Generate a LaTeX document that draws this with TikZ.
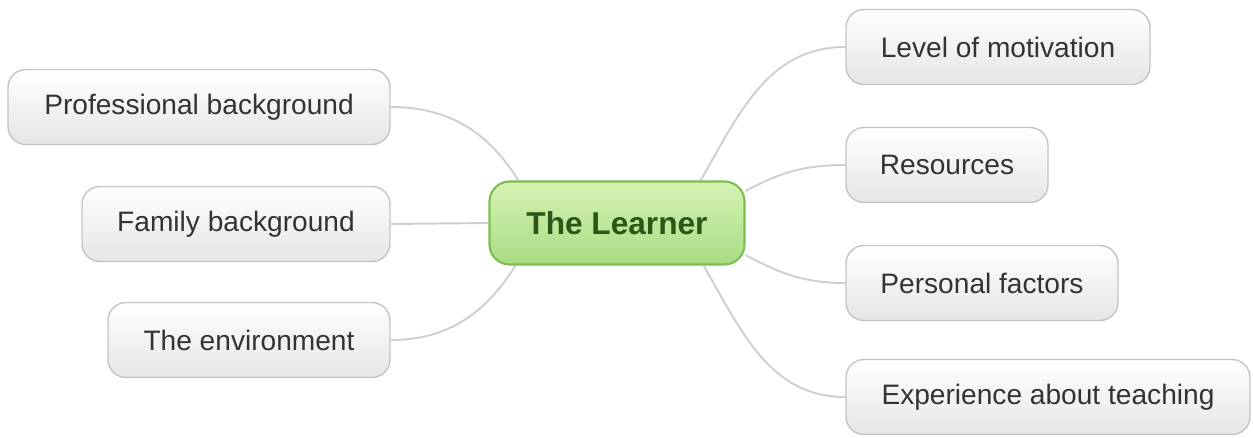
\documentclass[tikz,border=0pt]{standalone}
\usepackage{fontspec}
\setmainfont{Liberation Sans}
\usepackage{tikz}
\usetikzlibrary{backgrounds}
\definecolor{boxline}{HTML}{C4C4C4}
\definecolor{boxlow}{HTML}{E6E6E6}
\definecolor{boxtext}{HTML}{333333}
\definecolor{hubtop}{HTML}{D6F2B4}
\definecolor{hublow}{HTML}{A9DC82}
\definecolor{hubline}{HTML}{7CBF50}
\definecolor{hubtext}{HTML}{2A5616}
\definecolor{link}{HTML}{CFCFCF}
\tikzset{
  topic/.style={draw=boxline,line width=0.8pt,rounded corners=0.36cm,
    top color=white,bottom color=boxlow,text=boxtext,
    minimum height=1.5cm,font=\fontsize{16}{19}\selectfont},
  hub/.style={draw=hubline,line width=1.2pt,rounded corners=0.4cm,
    top color=hubtop,bottom color=hublow,text=hubtext,
    minimum width=5.1cm,minimum height=1.66cm,
    font=\fontsize{18}{21}\selectfont\bfseries},
  link/.style={draw=link,line width=1.1pt}
}

\begin{document}
\begin{tikzpicture}
    \useasboundingbox (0,0) rectangle (25.06,8.74);
    \node[hub] (learner) at (12.34,4.28) {The Learner};
    % left side
    \foreach \name/\pos/\bw/\txt in {
      prof/{3.98,6.60}/7.64/Professional background,
      family/{4.72,4.26}/6.16/Family background,
      env/{4.98,1.94}/5.64/The environment}{
     \node[topic,minimum width=\bw cm] (\name) at (\pos) {\txt};}
    % right side
    \foreach \name/\pos/\bw/\txt in {
      level/{19.96,7.80}/6.08/Level of motivation,
      res/{18.94,5.44}/4.04/Resources,
      pers/{19.64,3.08}/5.44/Personal factors,
      exp/{20.96,0.80}/8.08/Experience about teaching}{
     \node[topic,minimum width=\bw cm] (\name) at (\pos) {\txt};}
    \begin{scope}[on background layer]
    \draw[link] ([xshift=0.6cm]learner.north west) to[out=122,in=0] (prof.east);
    \draw[link] (learner.west) -- (family.east);
    \draw[link] ([xshift=0.54cm]learner.south west) to[out=-122,in=0] (env.east);
    \draw[link] ([xshift=-0.9cm]learner.north east) to[out=60,in=180] (level.west);
    \draw[link] (learner.14) to[out=28,in=180] (res.west);
    \draw[link] (learner.-14) to[out=-28,in=180] (pers.west);
    \draw[link] ([xshift=-0.84cm]learner.south east) to[out=-60,in=180] (exp.west);
    \end{scope}
\end{tikzpicture}
\end{document}
